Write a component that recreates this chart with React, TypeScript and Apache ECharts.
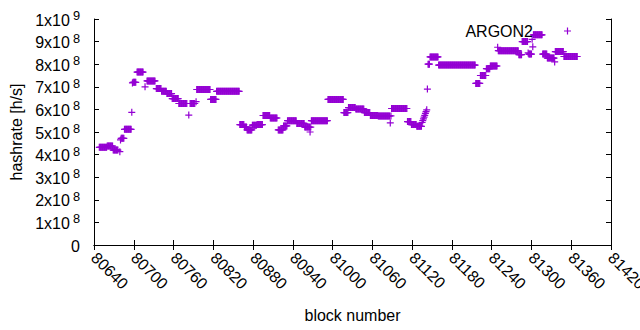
import React, { useEffect, useRef } from "react";
import * as echarts from "echarts";

// Plateaus of hashrate: [first block, last block, hashrate (x1e8 h/s)]
const segStart = [
  80648, 80660, 80669, 80679, 80680, 80681, 80686, 80697, 80698, 80699, 80705, 80717, 80720, 80734,
  80742, 80750, 80758, 80768, 80783, 80785, 80794, 80795, 80816, 80825, 80860, 80867, 80871, 80879,
  80886, 80895, 80906, 80918, 80926, 80932, 80946, 80958, 80966, 80967, 80968, 80993, 81017, 81024,
  81035, 81048, 81057, 81069, 81087, 81088, 81089, 81113, 81119, 81127, 81135, 81136, 81137, 81138,
  81139, 81140, 81141, 81142, 81143, 81144, 81147, 81160, 81216, 81223, 81232, 81238, 81249, 81250,
  81281, 81286, 81295, 81296, 81301, 81302, 81303, 81317, 81324, 81335, 81336, 81349,
];
const segEnd = [
  80659, 80668, 80676, 80679, 80680, 80685, 80696, 80697, 80698, 80703, 80714, 80717, 80732, 80741,
  80749, 80757, 80767, 80780, 80783, 80792, 80794, 80815, 80824, 80859, 80866, 80870, 80878, 80885,
  80894, 80905, 80916, 80925, 80931, 80945, 80957, 80965, 80966, 80967, 80992, 81016, 81023, 81034,
  81047, 81056, 81068, 81086, 81087, 81088, 81112, 81118, 81126, 81134, 81135, 81136, 81137, 81138,
  81139, 81140, 81141, 81142, 81143, 81146, 81159, 81215, 81222, 81231, 81237, 81248, 81249, 81280,
  81285, 81294, 81295, 81300, 81301, 81302, 81316, 81323, 81334, 81335, 81348, 81369,
];
const segValue = [
  4.32, 4.38, 4.2, 4.13, 4.65, 4.72, 5.12, 5.87, 7.17, 7.2, 7.65, 7.0, 7.26, 6.92,
  6.8, 6.7, 6.48, 6.26, 5.75, 6.26, 6.34, 6.88, 6.44, 6.8, 5.33, 5.22, 5.09, 5.3,
  5.33, 5.73, 5.62, 5.09, 5.27, 5.5, 5.38, 5.22, 5.0, 5.22, 5.5, 6.44, 5.86, 6.08,
  6.02, 5.86, 5.73, 5.71, 5.4, 5.71, 6.04, 5.46, 5.33, 5.25, 5.42, 5.5, 5.58, 5.66,
  5.74, 5.82, 5.9, 5.98, 6.9, 8.0, 8.32, 7.96, 7.15, 7.5, 7.8, 7.92, 8.75, 8.6,
  8.42, 9.0, 8.5, 8.45, 9.1, 8.77, 9.3, 8.45, 8.27, 8.1, 8.56, 8.34,
];

const seriesName = "ARGON2";
const xTitle = "block number";
const yTitle = "hashrate [h/s]";
const xMin = 80640;
const xMax = 81420;
const xStep = 60;
const yMax = 1e9;
const yStep = 1e8;

const PLUS = "path://M2.9,0h1.2v7h-1.2zM0,2.9h7v1.2h-7z";
const COLOR = "#9400d3";
const FONT = "'Liberation Sans', Arial, sans-serif";

function buildData(): number[][] {
  const out: number[][] = [];
  for (let i = 0; i < segStart.length; i++) {
    for (let b = segStart[i]; b <= segEnd[i]; b++) out.push([b, segValue[i] * 1e8]);
  }
  return out;
}

function yFmt(v: number): string {
  if (v === 0) return "{a|0}";
  const e = Math.floor(Math.log10(v) + 1e-9);
  const m = Math.round(v / Math.pow(10, e));
  return `{a|${m}x10}{s|${e}}`;
}

export default function App() {
  const ref = useRef<HTMLDivElement>(null);
  useEffect(() => {
    if (!ref.current) return;
    const chart = echarts.init(ref.current, undefined, { renderer: "svg" });
    const tick = { show: true, inside: true, length: 5, lineStyle: { color: "#000", width: 1 } };
    const line = { show: true, lineStyle: { color: "#000", width: 1 } };
    chart.setOption({
      animation: false,
      backgroundColor: "#fff",
      textStyle: { fontFamily: FONT },
      grid: { left: 94, right: 29, top: 19, bottom: 85, containLabel: false, outerBoundsMode: "none" },
      legend: {
        show: true,
        data: [seriesName],
        right: 69,
        top: 23,
        align: "right",
        icon: PLUS,
        itemWidth: 7,
        itemHeight: 7,
        padding: 0,
        textStyle: { fontFamily: FONT, fontSize: 16, color: "#000", padding: [0, 26, 0, 0] },
        selectedMode: false,
      },
      xAxis: [
        {
          type: "value",
          min: xMin,
          max: xMax,
          interval: xStep,
          axisLine: line,
          axisTick: tick,
          splitLine: { show: false },
          axisLabel: {
            rotate: -45,
            margin: 10,
            fontFamily: FONT,
            fontSize: 16,
            color: "#000",
            showMinLabel: true,
            showMaxLabel: true,
            hideOverlap: false,
            formatter: (v: number) => String(v),
          },
          name: xTitle,
          nameLocation: "middle",
          nameGap: 62,
          nameTextStyle: { fontFamily: FONT, fontSize: 16, color: "#000" },
        },
        {
          type: "value",
          position: "top",
          min: xMin,
          max: xMax,
          interval: xStep,
          axisLine: line,
          axisTick: tick,
          splitLine: { show: false },
          axisLabel: { show: false },
        },
      ],
      yAxis: [
        {
          type: "value",
          min: 0,
          max: yMax,
          interval: yStep,
          axisLine: line,
          axisTick: tick,
          splitLine: { show: false },
          axisLabel: {
            margin: 14,
            formatter: yFmt,
            rich: {
              a: { fontFamily: FONT, fontSize: 16, color: "#000", verticalAlign: "bottom", lineHeight: 18 },
              s: {
                fontFamily: FONT,
                fontSize: 12.8,
                color: "#000",
                verticalAlign: "bottom",
                lineHeight: 18,
                padding: [0, 0, 6, 3],
              },
            },
          },
          name: yTitle,
          nameLocation: "middle",
          nameGap: 70,
          nameTextStyle: { fontFamily: FONT, fontSize: 16, color: "#000" },
        },
        {
          type: "value",
          position: "right",
          min: 0,
          max: yMax,
          interval: yStep,
          axisLine: line,
          axisTick: tick,
          splitLine: { show: false },
          axisLabel: { show: false },
        },
      ],
      series: [
        {
          name: seriesName,
          type: "scatter",
          data: buildData(),
          symbol: PLUS,
          symbolSize: 7,
          itemStyle: { color: COLOR, opacity: 1 },
          xAxisIndex: 0,
          yAxisIndex: 0,
        },
      ],
    });
    return () => chart.dispose();
  }, []);
  return <div ref={ref} style={{ width: 640, height: 330, position: "absolute", left: 0, top: 0 }} />;
}
